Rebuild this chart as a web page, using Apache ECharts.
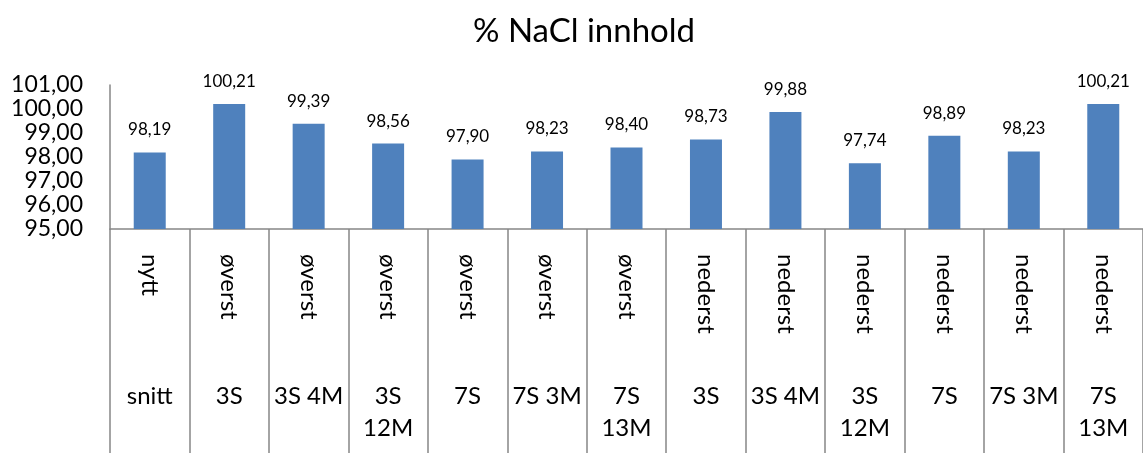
<!DOCTYPE html>
<html>
<head>
<meta charset="utf-8">
<script src="https://cdn.jsdelivr.net/npm/echarts@6/dist/echarts.min.js"></script>
<style>
  html, body { margin: 0; padding: 0; background: #fff; }
  #chart { width: 1143px; height: 453px; }
</style>
</head>
<body>
<div id="chart"></div>
<script>
const positions = ["nytt", "øverst", "øverst", "øverst", "øverst", "øverst", "øverst",
  "nederst", "nederst", "nederst", "nederst", "nederst", "nederst"];
const samples = ["snitt", "3S", "3S 4M", "3S\n12M", "7S", "7S 3M", "7S\n13M",
  "3S", "3S 4M", "3S\n12M", "7S", "7S 3M", "7S\n13M"];
const nacl = [98.19, 100.21, 99.39, 98.56, 97.90, 98.23, 98.40, 98.73, 99.88, 97.74, 98.89, 98.23, 100.21];

const yMin = 95;
const yMax = 101;

const fmt = (v) => v.toFixed(2).replace(".", ",");
const font = "Lato, 'Open Sans', sans-serif";
const lineGray = "#868686";

const chart = echarts.init(document.getElementById("chart"));

chart.setOption({
  animation: false,
  textStyle: { fontFamily: font },
  title: {
    text: "% NaCl innhold",
    left: 468,
    top: 10,
    textStyle: { fontFamily: font, fontSize: 33, fontWeight: "normal", color: "#000" },
  },
  grid: {
    left: 110,
    top: 85,
    width: 1041,
    height: 144,
    containLabel: false,
  },
  xAxis: [
    {
      type: "category",
      data: positions,
      position: "bottom",
      axisLine: { show: true, lineStyle: { color: lineGray, width: 1.5 } },
      axisTick: {
        show: true,
        interval: 0,
        length: 224,
        lineStyle: { color: lineGray, width: 1.5 },
      },
      axisLabel: {
        interval: 0,
        rotate: -90,
        margin: 25,
        fontSize: 24,
        color: "#000",
        fontFamily: font,
      },
    },
    {
      type: "category",
      data: samples,
      position: "bottom",
      axisLine: { show: false },
      axisTick: { show: false },
      axisLabel: {
        interval: 0,
        margin: 151,
        fontSize: 24,
        lineHeight: 32,
        color: "#000",
        fontFamily: font,
      },
    },
  ],
  yAxis: {
    type: "value",
    min: yMin,
    max: yMax,
    interval: 1,
    axisLine: { show: true, lineStyle: { color: lineGray, width: 1.5 } },
    axisTick: { show: false },
    splitLine: { show: false },
    axisLabel: {
      margin: 27,
      fontSize: 23,
      color: "#000",
      fontFamily: font,
      formatter: (v) => fmt(v),
    },
  },
  series: [
    {
      type: "bar",
      data: nacl,
      xAxisIndex: 0,
      barWidth: 32,
      itemStyle: { color: "#4F81BD" },
      label: {
        show: true,
        position: "top",
        distance: 14,
        fontSize: 17,
        color: "#000",
        fontFamily: font,
        formatter: (p) => fmt(p.value),
      },
    },
  ],
});
</script>
</body>
</html>
